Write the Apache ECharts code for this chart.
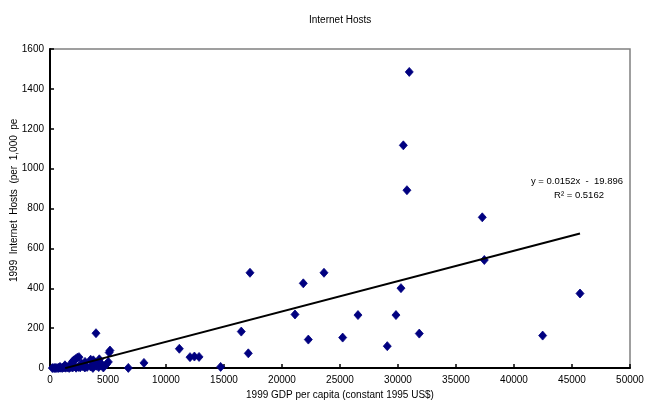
<!DOCTYPE html>
<html>
<head>
<meta charset="utf-8">
<script src="https://cdn.jsdelivr.net/npm/echarts@6/dist/echarts.min.js"></script>
<style>
html,body{margin:0;padding:0;background:#fff;}
#chart{width:652px;height:405px;}
</style>
</head>
<body>
<div id="chart"></div>
<script>
// GDP per capita (constant 1995 US$), 1999
var gdp = [200, 350, 450, 600, 750, 900, 1050, 1200, 1350, 1500, 1650, 1800, 1950, 2100, 2250, 2450, 2600, 2800, 3000, 3200,
  3500, 3700, 4000, 4200, 4400, 4600, 4850, 860, 1290, 1810, 1955, 2070, 2355, 2200, 2500, 2730, 3020, 3505, 3735, 3900,
  4250, 4450, 5030, 5170, 5100, 3965, 6750, 8100, 11150, 12070, 12450, 12850, 14710, 16490, 17095, 17240, 21120, 21837, 22270, 23620,
  25230, 26550, 29075, 29825, 30256, 30460, 30770, 30970, 31835, 37265, 37440, 42470, 45690];
// Internet hosts per 1,000 people, 1999
var hosts = [0.1, 0.2, 0.5, 0.3, 1, 2, 1, 3, 2, 4, 1, 5, 3, 8, 2, 6, 4, 10, 3, 6,
  8, 1, 12, 5, 14, 3, 18, 6, 14, 22, 34, 39, 52, 45, 55, 22, 31, 42, 39, 28,
  44, 20, 31, 88, 78, 175, 1, 26, 97, 55, 58, 56, 6, 183, 74, 478, 269, 425, 143, 478,
  153, 266, 110, 266, 401, 1117, 892, 1485, 173, 756, 542, 163, 374];
// Linear trendline
var trendSlope = 0.0152;
var trendIntercept = -19.896;
var trendR2 = 0.5162;
var xTicks = {min: 0, max: 50000, interval: 5000};
var yTicks = {min: 0, max: 1600, interval: 200};

var points = gdp.map(function (g, i) { return [g, hosts[i]]; });
var xStart = -trendIntercept / trendSlope;
var xEnd = Math.max.apply(null, gdp);
var trend = [[xStart, trendSlope * xStart + trendIntercept], [xEnd, trendSlope * xEnd + trendIntercept]];

var font = 'Liberation Sans, Arial, sans-serif';
var plain = function (v) { return String(v); };
var chart = echarts.init(document.getElementById('chart'));
chart.setOption({
  animation: false,
  backgroundColor: '#fff',
  title: {
    text: 'Internet Hosts', left: 304, top: 10,
    textStyle: {fontSize: 10, fontWeight: 'normal', color: '#000', fontFamily: font}
  },
  grid: {left: 50, right: 22, top: 49, bottom: 35, show: true, borderColor: '#808080', borderWidth: 1.5, backgroundColor: 'transparent'},
  xAxis: {
    type: 'value', min: xTicks.min, max: xTicks.max, interval: xTicks.interval,
    name: '1999 GDP per capita (constant 1995 US$)', nameLocation: 'middle', nameGap: 21,
    nameTextStyle: {fontSize: 10, color: '#000', fontFamily: font},
    axisLine: {show: true, lineStyle: {color: '#000', width: 2}},
    axisTick: {show: true, inside: true, length: 4, lineStyle: {color: '#000', width: 1.5}},
    axisLabel: {fontSize: 10, color: '#000', margin: 7, fontFamily: font, formatter: plain},
    splitLine: {show: false}
  },
  yAxis: {
    type: 'value', min: yTicks.min, max: yTicks.max, interval: yTicks.interval,
    axisLine: {show: true, lineStyle: {color: '#000', width: 2}},
    axisTick: {show: true, inside: true, length: 4, lineStyle: {color: '#000', width: 1.5}},
    axisLabel: {fontSize: 10, color: '#000', margin: 6, fontFamily: font, formatter: plain},
    splitLine: {show: false}
  },
  graphic: [
    {type: 'text', x: 14, y: 282, rotation: Math.PI / 2,
     style: {text: '1999  Internet  Hosts  (per  1,000  pe', fontSize: 10, fill: '#000', fontFamily: font, align: 'left', verticalAlign: 'middle'}},
    {type: 'text', x: 577, y: 181,
     style: {text: 'y = ' + trendSlope + 'x  -  ' + Math.abs(trendIntercept), fontSize: 9.5, fill: '#000', fontFamily: font, align: 'center', verticalAlign: 'middle'}},
    {type: 'text', x: 579, y: 195,
     style: {text: 'R\u00B2 = ' + trendR2, fontSize: 9.5, fill: '#000', fontFamily: font, align: 'center', verticalAlign: 'middle'}}
  ],
  series: [
    {type: 'scatter', data: points, symbol: 'diamond', symbolSize: [8, 9],
     itemStyle: {color: '#000080', borderColor: '#000080', borderWidth: 0.8, opacity: 1}, z: 3},
    {type: 'line', data: trend, showSymbol: false, symbol: 'none',
     lineStyle: {color: '#000', width: 2}, z: 4, silent: true}
  ]
});
</script>
</body>
</html>
